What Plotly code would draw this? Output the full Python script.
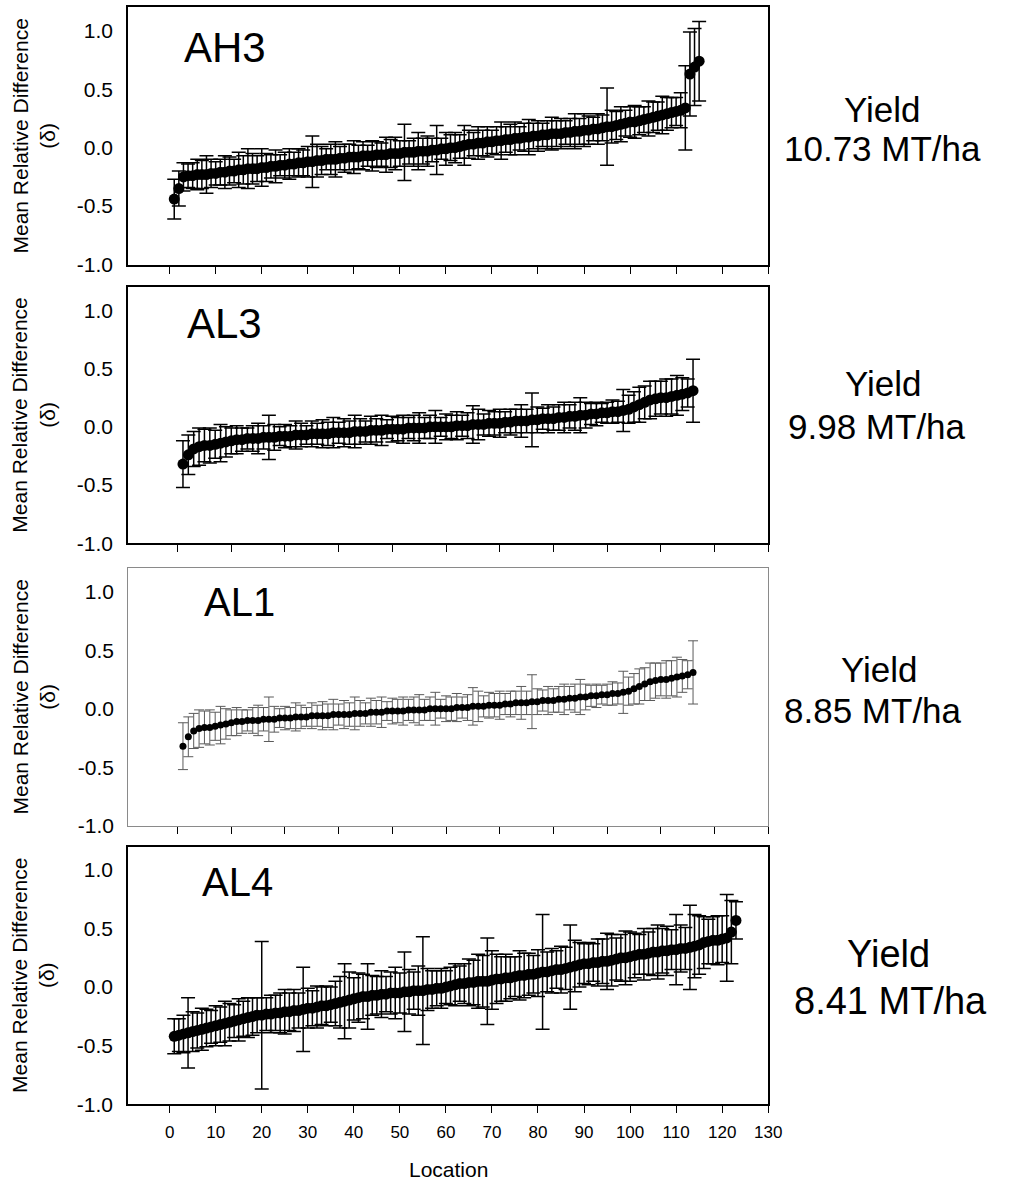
import plotly.graph_objects as go

W, H = 1010, 1191

# ---------------- data ----------------
ah3_mean = [-0.44, -0.35, -0.25, -0.24, -0.24, -0.23, -0.23, -0.23, -0.22, -0.22,
            -0.21, -0.21, -0.20, -0.20, -0.19, -0.19, -0.18, -0.18, -0.18, -0.17,
            -0.17, -0.16, -0.16, -0.15, -0.15, -0.14, -0.14, -0.13, -0.13, -0.12,
            -0.12, -0.11, -0.11, -0.10, -0.10, -0.10, -0.09, -0.09, -0.08, -0.08,
            -0.08, -0.07, -0.07, -0.07, -0.06, -0.06, -0.06, -0.05, -0.05, -0.05,
            -0.04, -0.04, -0.04, -0.03, -0.03, -0.03, -0.02, -0.02, -0.01, -0.01,
            0.00, 0.00, 0.01, 0.02, 0.03, 0.03, 0.04, 0.04, 0.05, 0.05,
            0.06, 0.06, 0.07, 0.07, 0.08, 0.08, 0.09, 0.09, 0.10, 0.10,
            0.11, 0.11, 0.12, 0.12, 0.12, 0.13, 0.13, 0.14, 0.14, 0.15,
            0.15, 0.16, 0.16, 0.17, 0.18, 0.18, 0.19, 0.20, 0.21, 0.22,
            0.22, 0.23, 0.24, 0.25, 0.26, 0.27, 0.28, 0.29, 0.30, 0.31,
            0.32, 0.34, 0.63, 0.69, 0.74]
ah3_err = [0.17, 0.15, 0.12, 0.10, 0.11, 0.13, 0.12, 0.16, 0.12, 0.10,
           0.11, 0.14, 0.12, 0.10, 0.15, 0.12, 0.17, 0.13, 0.11, 0.16,
           0.12, 0.10, 0.14, 0.09, 0.11, 0.13, 0.10, 0.12, 0.11, 0.13,
           0.22, 0.14, 0.12, 0.09, 0.13, 0.15, 0.10, 0.12, 0.11, 0.14,
           0.10, 0.12, 0.09, 0.13, 0.11, 0.10, 0.15, 0.12, 0.14, 0.11,
           0.24, 0.10, 0.12, 0.16, 0.11, 0.13, 0.10, 0.21, 0.09, 0.14,
           0.11, 0.13, 0.10, 0.17, 0.12, 0.10, 0.14, 0.11, 0.13, 0.10,
           0.12, 0.16, 0.11, 0.13, 0.14, 0.10, 0.12, 0.15, 0.11, 0.13,
           0.10, 0.12, 0.14, 0.11, 0.13, 0.10, 0.12, 0.15, 0.11, 0.14,
           0.12, 0.10, 0.13, 0.11, 0.33, 0.14, 0.12, 0.15, 0.11, 0.13,
           0.14, 0.12, 0.11, 0.15, 0.13, 0.12, 0.16, 0.14, 0.13, 0.12,
           0.15, 0.36, 0.36, 0.33, 0.34]

al3_mean = [-0.32, -0.24, -0.19, -0.17, -0.16, -0.16, -0.15, -0.14, -0.13, -0.12,
            -0.11, -0.11, -0.10, -0.10, -0.10, -0.09, -0.09, -0.09, -0.08, -0.08,
            -0.08, -0.07, -0.07, -0.07, -0.06, -0.06, -0.06, -0.06, -0.05, -0.05,
            -0.05, -0.05, -0.04, -0.04, -0.04, -0.03, -0.03, -0.03, -0.02, -0.02,
            -0.02, -0.02, -0.01, -0.01, -0.01, -0.01, 0.00, 0.00, 0.00, 0.00,
            0.00, 0.01, 0.01, 0.01, 0.02, 0.02, 0.02, 0.03, 0.03, 0.03,
            0.04, 0.04, 0.05, 0.05, 0.05, 0.06, 0.06, 0.07, 0.07, 0.07,
            0.08, 0.08, 0.09, 0.09, 0.10, 0.10, 0.11, 0.11, 0.12, 0.12,
            0.13, 0.13, 0.14, 0.15, 0.17, 0.19, 0.21, 0.23, 0.24, 0.25,
            0.25, 0.26, 0.27, 0.28, 0.29, 0.31]
al3_err = [0.20, 0.17, 0.15, 0.16, 0.14, 0.15, 0.12, 0.16, 0.13, 0.11,
           0.12, 0.10, 0.09, 0.11, 0.13, 0.10, 0.19, 0.11, 0.08, 0.10,
           0.09, 0.12, 0.10, 0.08, 0.11, 0.09, 0.12, 0.10, 0.13, 0.09,
           0.12, 0.10, 0.14, 0.11, 0.09, 0.12, 0.10, 0.13, 0.08, 0.11,
           0.10, 0.12, 0.09, 0.11, 0.13, 0.09, 0.10, 0.14, 0.08, 0.11,
           0.10, 0.12, 0.09, 0.11, 0.16, 0.13, 0.09, 0.11, 0.10, 0.12,
           0.09, 0.11, 0.10, 0.14, 0.10, 0.23, 0.11, 0.09, 0.12, 0.10,
           0.11, 0.13, 0.10, 0.12, 0.15, 0.11, 0.09, 0.10, 0.08, 0.09,
           0.10, 0.09, 0.18, 0.12, 0.13, 0.15, 0.14, 0.16, 0.15, 0.14,
           0.16, 0.15, 0.17, 0.14, 0.12, 0.27]

al1_mean = list(al3_mean)
al1_err = list(al3_err)

al4_mean = [-0.42, -0.41, -0.40, -0.39, -0.38, -0.37, -0.36, -0.35, -0.34, -0.33,
            -0.32, -0.31, -0.30, -0.29, -0.28, -0.27, -0.26, -0.25, -0.24, -0.24,
            -0.23, -0.23, -0.22, -0.22, -0.21, -0.21, -0.20, -0.20, -0.19, -0.18,
            -0.18, -0.17, -0.16, -0.16, -0.15, -0.14, -0.13, -0.12, -0.11, -0.10,
            -0.09, -0.08, -0.08, -0.07, -0.07, -0.06, -0.06, -0.05, -0.05, -0.05,
            -0.04, -0.04, -0.03, -0.03, -0.03, -0.02, -0.02, -0.01, -0.01, 0.00,
            0.01, 0.02, 0.03, 0.03, 0.04, 0.04, 0.05, 0.05, 0.05, 0.06,
            0.07, 0.07, 0.08, 0.08, 0.09, 0.10, 0.10, 0.11, 0.11, 0.12,
            0.13, 0.13, 0.14, 0.15, 0.15, 0.16, 0.17, 0.18, 0.19, 0.20,
            0.20, 0.21, 0.21, 0.22, 0.22, 0.23, 0.24, 0.25, 0.25, 0.26,
            0.27, 0.28, 0.28, 0.29, 0.30, 0.30, 0.31, 0.31, 0.32, 0.32,
            0.33, 0.33, 0.34, 0.35, 0.36, 0.38, 0.39, 0.40, 0.40, 0.41,
            0.42, 0.47, 0.57]
al4_err = [0.15, 0.14, 0.16, 0.30, 0.17, 0.15, 0.18, 0.16, 0.14, 0.17,
           0.15, 0.19, 0.16, 0.14, 0.18, 0.15, 0.17, 0.16, 0.15, 0.63,
           0.14, 0.16, 0.15, 0.17, 0.19, 0.16, 0.18, 0.15, 0.36, 0.17,
           0.15, 0.18, 0.16, 0.17, 0.15, 0.19, 0.22, 0.32, 0.24, 0.18,
           0.21, 0.19, 0.28, 0.17, 0.16, 0.20, 0.15, 0.18, 0.22, 0.17,
           0.34, 0.19, 0.16, 0.21, 0.46, 0.18, 0.16, 0.15, 0.17, 0.14,
           0.16, 0.18, 0.15, 0.17, 0.20, 0.19, 0.23, 0.22, 0.37, 0.25,
           0.21, 0.19, 0.20, 0.18, 0.17, 0.21, 0.19, 0.18, 0.16, 0.20,
           0.49, 0.17, 0.19, 0.16, 0.20, 0.18, 0.36, 0.22, 0.19, 0.17,
           0.18, 0.16, 0.20, 0.19, 0.24, 0.22, 0.18, 0.20, 0.23, 0.21,
           0.19, 0.17, 0.22, 0.18, 0.20, 0.23, 0.19, 0.21, 0.17, 0.30,
           0.20, 0.18, 0.36, 0.27, 0.25, 0.22, 0.19, 0.20, 0.21, 0.20,
           0.37, 0.27, 0.16]

panel_names = ["AH3", "AL3", "AL1", "AL4"]
yield_labels = ["10.73 MT/ha", "9.98 MT/ha", "8.85 MT/ha", "8.41 MT/ha"]
y_ticks = [-1.0, -0.5, 0.0, 0.5, 1.0]
y_tick_text = ["-1.0", "-0.5", "0.0", "0.5", "1.0"]
x_ticks_130 = list(range(0, 131, 10))
x_ticks_110 = list(range(0, 111, 10))

series = [(ah3_mean, ah3_err), (al3_mean, al3_err), (al1_mean, al1_err), (al4_mean, al4_err)]

# ---------------- layout geometry (pixels) ----------------
px_left, px_right = 130, 779
panel_px = [(7.5, 267), (289.5, 548.5), (573.5, 833.5), (854.5, 1114.5)]
xranges = [[-9.0, 130], [-9.2, 110], [-9.2, 110], [-9.0, 130]]
xticks = [x_ticks_130, x_ticks_110, x_ticks_110, x_ticks_130]
msize = [11, 11, 7, 11]
ecolor = ["black", "black", "#5a5a5a", "black"]
ewidth = [7, 7, 5, 7]
ethick = [1.5, 1.5, 1.0, 1.5]
framecol = ["black", "black", "#8a8a8a", "black"]
framew = [2, 2, 1, 2]

FONT = "Liberation Sans, Arial, sans-serif"

fig = go.Figure()
layout = dict(width=W, height=H, margin=dict(l=0, r=0, t=0, b=0),
              paper_bgcolor="white", plot_bgcolor="white", showlegend=False,
              font=dict(family=FONT, color="black"))
annotations = []

for i, (m, e) in enumerate(series):
    n = i + 1
    xs = list(range(1, len(m) + 1))
    fig.add_trace(go.Scatter(
        x=xs, y=m, mode="markers",
        marker=dict(color="black", size=msize[i], line=dict(width=0)),
        error_y=dict(type="data", array=e, symmetric=True, color=ecolor[i],
                     thickness=ethick[i], width=ewidth[i]),
        xaxis=f"x{n}" if n > 1 else "x", yaxis=f"y{n}" if n > 1 else "y"))
    top, bot = panel_px[i]
    ydom = [1 - bot / H, 1 - top / H]
    xname = "xaxis" if n == 1 else f"xaxis{n}"
    yname = "yaxis" if n == 1 else f"yaxis{n}"
    layout[xname] = dict(domain=[px_left / W, px_right / W], range=xranges[i],
                         anchor="y" if n == 1 else f"y{n}",
                         tickmode="array", tickvals=xticks[i],
                         ticktext=[str(t) for t in xticks[i]],
                         showticklabels=(n == 4), ticks="outside", ticklen=7,
                         tickwidth=1.3, tickcolor="black", ticklabelstandoff=4,
                         showgrid=False, zeroline=False, showline=True,
                         linecolor=framecol[i], linewidth=framew[i], mirror=True,
                         tickfont=dict(size=17, family=FONT, color="black"))
    layout[yname] = dict(domain=ydom, range=[-1.0, 1.2],
                         anchor="x" if n == 1 else f"x{n}",
                         tickmode="array", tickvals=y_ticks, ticktext=y_tick_text,
                         ticks="outside", ticklen=9, tickcolor="rgba(0,0,0,0)",
                         showgrid=False, zeroline=False, showline=True,
                         linecolor=framecol[i], linewidth=framew[i], mirror=True,
                         tickfont=dict(size=21, family=FONT, color="black"))
    ycen = 1 - (top + bot) / 2 / H
    annotations.append(dict(text="Mean Relative Difference<br>(δ)", textangle=-90,
                            x=34 / W, y=ycen, xref="paper", yref="paper",
                            showarrow=False, xanchor="center", yanchor="middle",
                            font=dict(size=21, family=FONT, color="black")))

label_pos = [(185, 48, 42), (188, 327, 42), (205, 608, 40), (203, 890, 40)]
for name, (lx, ly, fs) in zip(panel_names, label_pos):
    annotations.append(dict(text=name, x=lx / W, y=1 - ly / H, xref="paper", yref="paper",
                            showarrow=False, xanchor="left", yanchor="middle",
                            font=dict(size=fs, family=FONT, color="black")))

yield_pos = [((895, 111), (895, 150), 35), ((896, 387), (889, 430), 35),
             ((892, 676), (885, 717), 35), ((901, 963), (903, 1010), 38)]
for lab, ((x1, y1), (x2, y2), fs) in zip(yield_labels, yield_pos):
    annotations.append(dict(text="Yield", x=x1 / W, y=1 - y1 / H, xref="paper", yref="paper",
                            showarrow=False, xanchor="center", yanchor="middle",
                            font=dict(size=fs, family=FONT, color="black")))
    annotations.append(dict(text=lab, x=x2 / W, y=1 - y2 / H, xref="paper", yref="paper",
                            showarrow=False, xanchor="center", yanchor="middle",
                            font=dict(size=fs, family=FONT, color="black")))

annotations.append(dict(text="Location", x=455 / W, y=1 - 1180 / H, xref="paper", yref="paper",
                        showarrow=False, xanchor="center", yanchor="middle",
                        font=dict(size=21, family=FONT, color="black")))

layout["annotations"] = annotations
fig.update_layout(**layout)
fig.write_html("out.html")
